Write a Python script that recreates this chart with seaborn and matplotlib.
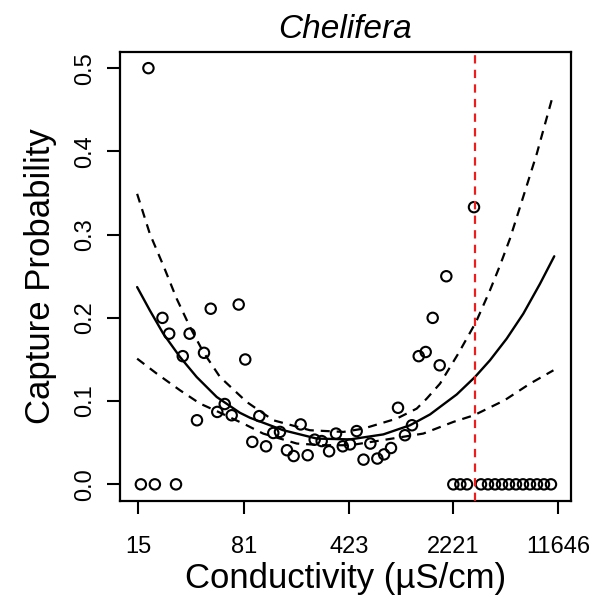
import matplotlib
matplotlib.use("Agg")
import matplotlib.pyplot as plt
import seaborn as sns
import pandas as pd

sns.set_style("white")
plt.rcParams['font.family'] = ['Liberation Sans', 'DejaVu Sans']
plt.rcParams['lines.scale_dashes'] = False
plt.rcParams['text.color'] = 'black'
plt.rcParams['axes.labelcolor'] = 'black'

# ---- binned capture data (conductivity in uS/cm) ----
conductivity = [15.7, 17.7, 19.6, 22.1, 24.6, 27.4, 30.5, 34.0, 38.2, 42.7,
                47.5, 52.7, 59.3, 66.2, 74.0, 82.1, 91.8, 102.6, 114.1, 128.0,
                142.3, 159.0, 176.8, 197.6, 220.8, 246.7, 275.6, 310, 346, 385,
                432, 480, 535, 596, 666, 741, 827, 924, 1032, 1153,
                1283, 1433, 1601, 1789, 1987, 2220, 2481, 2758, 3081, 3443,
                3846, 4297, 4801, 5364, 5993, 6696, 7481, 8358, 9338, 10433]
capture_prob = [0.0, 0.5, 0.0, 0.200, 0.181, 0.0, 0.154, 0.181, 0.077, 0.158,
                0.211, 0.087, 0.0965, 0.083, 0.216, 0.150, 0.051, 0.082, 0.0457, 0.0617,
                0.063, 0.041, 0.034, 0.072, 0.035, 0.0537, 0.052, 0.0397, 0.061, 0.0457,
                0.048, 0.064, 0.0297, 0.049, 0.031, 0.036, 0.0437, 0.092, 0.059, 0.071,
                0.154, 0.159, 0.200, 0.143, 0.250, 0.0, 0.0, 0.0, 0.333, 0.0,
                0.0, 0.0, 0.0, 0.0, 0.0, 0.0, 0.0, 0.0, 0.0, 0.0]

# ---- fitted curve and confidence band ----
fit_x = [14.8, 18.1, 22.4, 29.2, 38.0, 52.2, 75.4, 88.5, 150, 255, 432, 732,
         1118, 1535, 1798, 2343, 3130, 3966, 5170, 6730, 8772, 10990]
fit_p = [0.237, 0.209, 0.181, 0.153, 0.129, 0.105, 0.086, 0.080, 0.065, 0.055,
         0.054, 0.060, 0.071, 0.084, 0.093, 0.108, 0.129, 0.149, 0.175, 0.205,
         0.241, 0.274]

upper_x = [14.8, 18.1, 22.4, 27.7, 34.2, 42.2, 55.0, 84.0, 128, 229, 389, 535,
           905, 1243, 1456, 1798, 2400, 3180, 3966, 4652, 5444, 6384, 8327, 10717]
upper_p = [0.349, 0.301, 0.263, 0.223, 0.189, 0.159, 0.129, 0.099, 0.077, 0.065,
           0.063, 0.067, 0.079, 0.091, 0.103, 0.121, 0.157, 0.195, 0.233, 0.263,
           0.295, 0.333, 0.397, 0.466]

lower_x = [14.8, 20.2, 29.2, 40.1, 52.2, 84.0, 109, 186, 283, 432, 659, 1379,
           2220, 3080, 5000, 7485, 10850]
lower_p = [0.151, 0.133, 0.113, 0.097, 0.088, 0.071, 0.061, 0.049, 0.047, 0.047,
           0.052, 0.061, 0.075, 0.083, 0.101, 0.121, 0.137]

threshold = 3150
tick_vals = [15, 81, 423, 2221, 11646]
tick_labels = ['15', '81', '423', '2221', '11646']

points = pd.DataFrame({'cond': conductivity, 'p': capture_prob})
fit = pd.DataFrame({'cond': fit_x, 'p': fit_p})
upper = pd.DataFrame({'cond': upper_x, 'p': upper_p})
lower = pd.DataFrame({'cond': lower_x, 'p': lower_p})

fig = plt.figure(figsize=(6.10, 6.02), dpi=100)
ax = fig.add_axes([120 / 610, 101 / 602, 450.7 / 610, 449.5 / 602])
ax.set_xscale('log')

dash = (0, (6.5, 5))
sns.lineplot(data=fit, x='cond', y='p', ax=ax, color='black', lw=1.7,
             sort=False, estimator=None)
sns.lineplot(data=upper, x='cond', y='p', ax=ax, color='black', lw=1.6,
             linestyle=dash, sort=False, estimator=None)
sns.lineplot(data=lower, x='cond', y='p', ax=ax, color='black', lw=1.6,
             linestyle=dash, sort=False, estimator=None)
sns.scatterplot(data=points, x='cond', y='p', ax=ax, marker='o', s=56,
                facecolor='none', edgecolor='black', linewidth=1.5, zorder=3)
ax.axvline(threshold, color='#ee1c1c', lw=1.6, linestyle=(0, (6, 4.5)), zorder=4)

ax.set_xlim(11.28, 14263)
ax.set_ylim(-0.02, 0.52)
ax.minorticks_off()
ax.set_xticks(tick_vals)
ax.set_xticklabels(tick_labels)
ax.set_yticks([0.0, 0.1, 0.2, 0.3, 0.4, 0.5])
ax.set_yticklabels(['0.0', '0.1', '0.2', '0.3', '0.4', '0.5'],
                   rotation=90, va='center')

for s in ax.spines.values():
    s.set_visible(True)
    s.set_color('black')
    s.set_linewidth(1.6)
ax.tick_params(axis='both', direction='out', length=9.5, width=1.5,
               labelsize=17, color='black', labelcolor='black',
               bottom=True, left=True)
ax.tick_params(axis='x', pad=16)
ax.tick_params(axis='y', pad=8)

ax.set_xlabel('Conductivity (µS/cm)', fontsize=25, labelpad=2.5)
ax.set_ylabel('Capture Probability', fontsize=25, labelpad=12)
ax.set_title('Chelifera', fontsize=24, style='italic', pad=10)

fig.savefig('out.png', dpi=100)
